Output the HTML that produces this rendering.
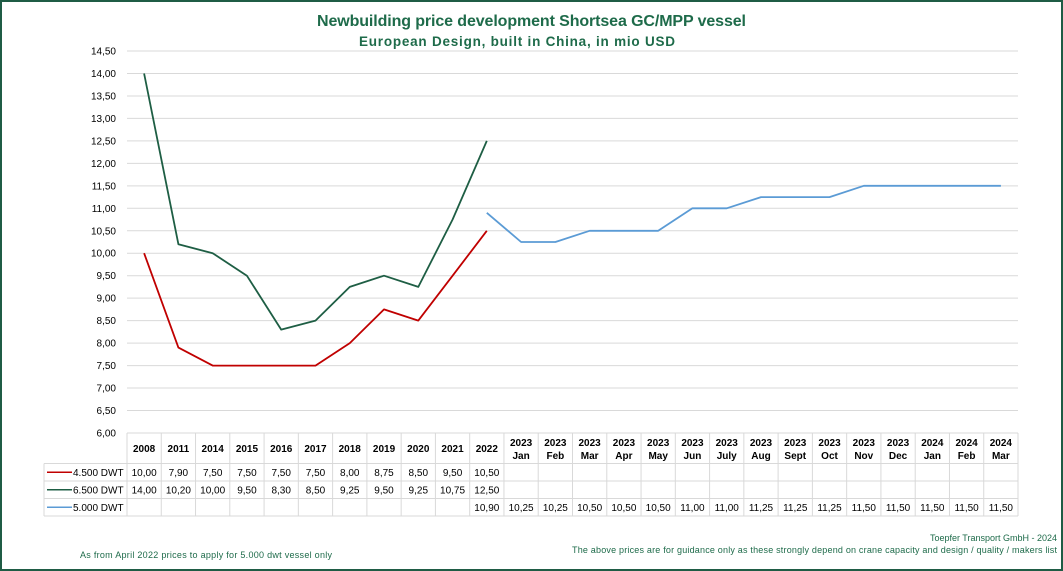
<!DOCTYPE html>
<html><head><meta charset="utf-8"><style>
body{margin:0;background:#fff}
svg{display:block;font-family:"Liberation Sans",sans-serif}
</style></head><body>
<svg id="c" width="1063" height="571">
<rect x="1" y="1" width="1061" height="569" fill="#fff" stroke="#1f5c45" stroke-width="2"/>
<text x="317" y="26" textLength="429" font-size="16" font-weight="bold" fill="#1e6b4a">Newbuilding price development  Shortsea GC/MPP vessel</text>
<text x="359" y="46" textLength="316" font-size="13.5" font-weight="bold" fill="#1e6b4a">European Design, built in China, in mio USD</text>
<g id="grid"></g><g id="tbl"></g><g id="lines"></g>
<text x="1057" y="541" text-anchor="end" font-size="9" fill="#1e6b4a">Toepfer Transport GmbH - 2024</text>
<text x="572" y="553" textLength="485" font-size="9" fill="#1e6b4a">The above prices are for guidance only as these strongly depend on crane capacity and design / quality / makers list</text>
<text x="80" y="558" textLength="252" font-size="9" fill="#1e6b4a">As from April 2022 prices  to apply for 5.000 dwt vessel only</text>
</svg>
<script>
const years=["2008","2011","2014","2015","2016","2017","2018","2019","2020","2021","2022","2023","2023","2023","2023","2023","2023","2023","2023","2023","2023","2023","2023","2024","2024","2024"];
const months=["","","","","","","","","","","","Jan","Feb","Mar","Apr","May","Jun","July","Aug","Sept","Oct","Nov","Dec","Jan","Feb","Mar"];
const s4500=[10.00,7.90,7.50,7.50,7.50,7.50,8.00,8.75,8.50,9.50,10.50,null,null,null,null,null,null,null,null,null,null,null,null,null,null,null];
const s6500=[14.00,10.20,10.00,9.50,8.30,8.50,9.25,9.50,9.25,10.75,12.50,null,null,null,null,null,null,null,null,null,null,null,null,null,null,null];
const s5000=[null,null,null,null,null,null,null,null,null,null,10.90,10.25,10.25,10.50,10.50,10.50,11.00,11.00,11.25,11.25,11.25,11.50,11.50,11.50,11.50,11.50];
const yTicks=[6,6.5,7,7.5,8,8.5,9,9.5,10,10.5,11,11.5,12,12.5,13,13.5,14,14.5];
const seriesNames=["4.500 DWT","6.500 DWT","5.000 DWT"];
const seriesColors=["#c00000","#1e5e44","#5b9bd5"];
const X0=127,X1=1018,Y0=433,Y1=51,N=years.length,cw=(X1-X0)/N;
const xs=i=>X0+cw*(i+.5), ys=v=>Y0-(v-6)*(Y0-Y1)/8.5;
const fmt=v=>v.toFixed(2).replace('.',',');
const NS="http://www.w3.org/2000/svg";
function mk(p,t,a,txt){const e=document.createElementNS(NS,t);for(const k in a)e.setAttribute(k,a[k]);if(txt!=null)e.textContent=txt;p.appendChild(e);return e;}
const G=document.getElementById('grid'),T=document.getElementById('tbl'),L=document.getElementById('lines');
yTicks.forEach(v=>{
 const l=mk(G,'line',{x1:X0,x2:X1,y1:ys(v),y2:ys(v),stroke:'#d9d9d9','stroke-width':1});
 
 
 const t=mk(G,'text',{x:116,y:ys(v)+3.5,'text-anchor':'end','font-size':10,fill:'#000'},fmt(v));
 
 
});
const rows=[433,463.5,481,498.5,516];
const gc='#d9d9d9';
[[X0,X1,433],[44,X1,463.5],[44,X1,481],[44,X1,498.5],[44,X1,516]].forEach(r=>mk(T,'line',{x1:r[0],x2:r[1],y1:r[2],y2:r[2],stroke:gc}));
mk(T,'line',{x1:44,x2:44,y1:463.5,y2:516,stroke:gc});
for(let i=0;i<=N;i++)mk(T,'line',{x1:X0+cw*i,x2:X0+cw*i,y1:433,y2:516,stroke:gc});
years.forEach((y,i)=>{
 const single=!months[i];
 const t=mk(T,'text',{x:xs(i),y:single?452:446,'text-anchor':'middle','font-size':10,'font-weight':'bold'},y);
 
 
 if(!single){const m=mk(T,'text',{x:xs(i),y:459,'text-anchor':'middle','font-size':10,'font-weight':'bold'},months[i]);
 
 }
});
[s4500,s6500,s5000].forEach((s,k)=>{
 const ry=(rows[k+1]+rows[k+2])/2+3.5;
 mk(T,'line',{x1:47,x2:72,y1:ry-3.5,y2:ry-3.5,stroke:seriesColors[k],'stroke-width':1.5});
 const n=mk(T,'text',{x:73,y:ry,'font-size':10},seriesNames[k]);
 
 
 s.forEach((v,i)=>{if(v==null)return;
  const c=mk(T,'text',{x:xs(i),y:ry,'text-anchor':'middle','font-size':10},fmt(v));
  
  
 });
 let d='';s.forEach((v,i)=>{if(v==null)return;d+=(d?'L':'M')+xs(i).toFixed(1)+','+ys(v).toFixed(1);});
 const p=mk(L,'path',{d:d,fill:'none',stroke:seriesColors[k],'stroke-width':1.8,'stroke-linejoin':'round'});
 
 
});
</script>
</body></html>
